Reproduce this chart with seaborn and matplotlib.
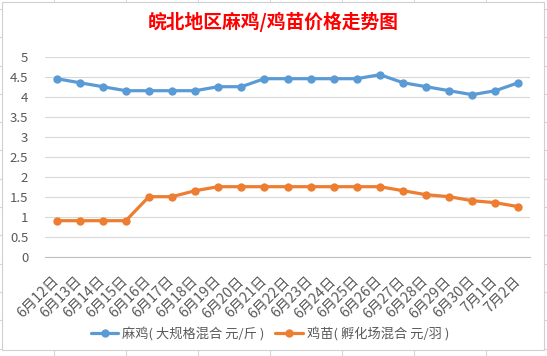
import matplotlib
matplotlib.use('Agg')
import matplotlib.pyplot as plt
import seaborn as sns
import pandas as pd
import numpy as np
from matplotlib.lines import Line2D
from matplotlib.patches import Rectangle

dates = ['6月12日', '6月13日', '6月14日', '6月15日', '6月16日', '6月17日', '6月18日',
         '6月19日', '6月20日', '6月21日', '6月22日', '6月23日', '6月24日', '6月25日',
         '6月26日', '6月27日', '6月28日', '6月29日', '6月30日', '7月1日', '7月2日']
maji = [4.45, 4.35, 4.25, 4.15, 4.15, 4.15, 4.15, 4.25, 4.25, 4.45, 4.45,
        4.45, 4.45, 4.45, 4.55, 4.35, 4.25, 4.15, 4.05, 4.15, 4.35]
jimiao = [0.9, 0.9, 0.9, 0.9, 1.5, 1.5, 1.65, 1.75, 1.75, 1.75, 1.75,
          1.75, 1.75, 1.75, 1.75, 1.65, 1.55, 1.5, 1.4, 1.35, 1.25]
series_names = ['麻鸡( 大规格混合 元/斤 )', '鸡苗( 孵化场混合 元/羽 )']
colors = ['#5B9BD5', '#ED7D31']

df = pd.DataFrame({
    '日期': dates * 2,
    '价格': maji + jimiao,
    '品种': [series_names[0]] * len(dates) + [series_names[1]] * len(dates),
})

sns.set_style('white')
plt.rcParams['font.family'] = ['Noto Sans CJK SC', 'DejaVu Sans']

W, H = 547, 356
fig = plt.figure(figsize=(W / 100, H / 100), dpi=100)
fig.patch.set_facecolor('white')

# spreadsheet grid outside the chart box
for x in [54, 126, 198, 270, 342, 414, 486]:
    fig.add_artist(Line2D([x / W, x / W], [0, 1], color='#D4D4D4', lw=0.8, zorder=0))
for y in np.arange(9, H, 28.3):
    fig.add_artist(Line2D([0, 1], [1 - y / H, 1 - y / H], color='#D4D4D4', lw=0.8, zorder=0))
fig.add_artist(Rectangle((2 / W, 1 - 350 / H), 542 / W, 348 / H, facecolor='white',
                         edgecolor='#D0D0D0', lw=0.8, zorder=1))

left, right, top, bottom = 45, 530, 56.7, 256.7
ax = fig.add_axes([left / W, 1 - bottom / H, (right - left) / W, (bottom - top) / H])
ax.set_zorder(2)
ax.patch.set_alpha(0)

sns.lineplot(data=df, x='日期', y='价格', hue='品种', palette=colors, marker='o',
             markersize=6, markeredgewidth=0, linewidth=2.3, sort=False, ax=ax, legend=False)

ax.set_xlim(-0.5, len(dates) - 0.5)
ax.set_ylim(0, 5)
ax.set_yticks(np.arange(0, 5.01, 0.5))
ax.set_yticklabels([f'{v:g}' for v in np.arange(0, 5.01, 0.5)])
ax.yaxis.grid(True, color='#D9D9D9', lw=0.8)
ax.set_xticks(range(len(dates)))
ax.set_xticklabels(dates, rotation=45, ha='right', va='center', rotation_mode='anchor')
ax.set_xticks(np.arange(-0.5, len(dates), 1), minor=True)
ax.tick_params(axis='x', which='major', length=0, pad=16, labelsize=10.3, labelcolor='#595959')
ax.tick_params(axis='x', which='minor', length=5, color='#BFBFBF', width=0.8)
ax.tick_params(axis='y', length=0, labelsize=9.5, labelcolor='#595959', pad=12)
ax.set_xlabel('')
ax.set_ylabel('')
for s in ['top', 'right', 'left']:
    ax.spines[s].set_visible(False)
ax.spines['bottom'].set_color('#BFBFBF')
ax.spines['bottom'].set_linewidth(0.8)

fig.text(273 / W, 1 - 22 / H, '皖北地区麻鸡/鸡苗价格走势图', color='red', fontsize=13.5,
         fontweight='bold', ha='center', va='center', zorder=3)

handles = [Line2D([0], [0], color=c, lw=2.3, marker='o', markersize=6, markeredgewidth=0)
           for c in colors]
leg = fig.legend(handles, series_names, loc='center', bbox_to_anchor=(270 / W, 1 - 334 / H),
                 ncol=2, frameon=False, fontsize=9.5, handlelength=2.1, columnspacing=0.8,
                 handletextpad=0.3)
leg.set_zorder(3)
for t in leg.get_texts():
    t.set_color('#595959')

fig.savefig('out.png', dpi=100)
